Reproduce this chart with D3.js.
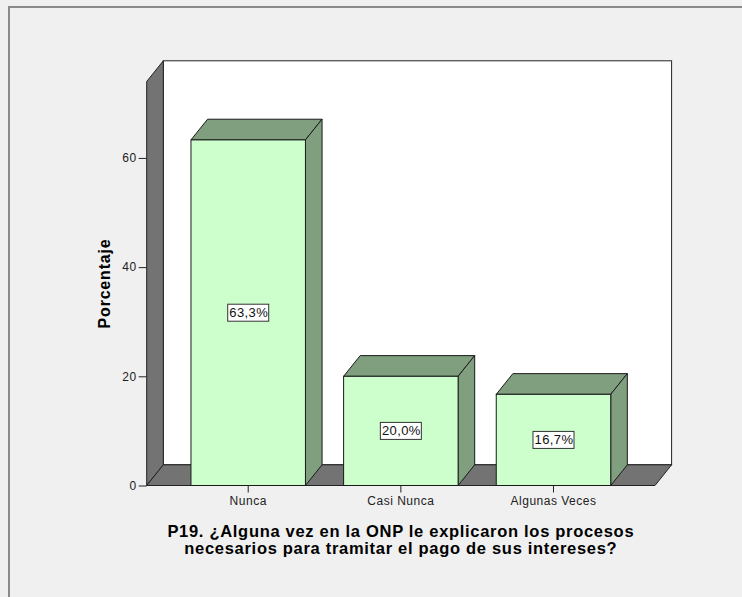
<!DOCTYPE html>
<html>
<head>
<meta charset="utf-8">
<script src="https://cdn.jsdelivr.net/npm/d3@7"></script>
<style>
  body { margin: 0; background: #f0f0f0; }
  text { font-family: "Liberation Sans", Arial, sans-serif; }
</style>
</head>
<body>
<div id="chart"></div>
<script>
var categories = ["Nunca", "Casi Nunca", "Algunas Veces"];
var percentages = [63.3, 20.0, 16.7];
var barLabels = ["63,3%", "20,0%", "16,7%"];
var yTicks = [0, 20, 40, 60];
var yTitle = "Porcentaje";
var xTitle = ["P19. ¿Alguna vez en la ONP le explicaron los procesos",
              "necesarios para tramitar el pago de sus intereses?"];

var width = 742, height = 597;
var depthX = 16.6, depthY = 20.7;   // 3D offset
var wallColor = "#737373", frontColor = "#ccffcc", sideColor = "#7f9f7f";

var svg = d3.select("#chart").append("svg")
    .attr("width", width)
    .attr("height", height);

svg.append("rect")
    .attr("width", width).attr("height", height)
    .attr("fill", "#f0f0f0");

// outer frame
svg.append("rect")
    .attr("x", 9).attr("y", 7)
    .attr("width", width + 20).attr("height", height + 20)
    .attr("fill", "none")
    .attr("stroke", "#8a8a8a")
    .attr("stroke-width", 2);

var y = d3.scaleLinear().domain([0, 74]).range([485.5, 81.5]);
var x = d3.scaleBand().domain(categories).range([146.7, 655])
    .paddingInner(0.25).paddingOuter(0.29);

var x0 = x.range()[0], x1 = x.range()[1];
var yb = y(0), yt = y(74);

// back wall
svg.append("rect")
    .attr("x", x0 + depthX).attr("y", yt - depthY)
    .attr("width", x1 - x0).attr("height", yb - yt)
    .attr("fill", "white").attr("stroke", "#222").attr("stroke-width", 1);

// left wall
svg.append("polygon")
    .attr("points", [[x0, yt], [x0 + depthX, yt - depthY], [x0 + depthX, yb - depthY], [x0, yb]].join(" "))
    .attr("fill", wallColor).attr("stroke", "#222").attr("stroke-width", 1);

// floor
svg.append("polygon")
    .attr("points", [[x0, yb], [x0 + depthX, yb - depthY], [x1 + depthX, yb - depthY], [x1, yb]].join(" "))
    .attr("fill", wallColor).attr("stroke", "#222").attr("stroke-width", 1);

// bars
var bars = svg.selectAll(".bar")
    .data(categories)
    .enter().append("g")
    .attr("class", "bar");

bars.append("polygon")   // top
    .attr("points", (d, i) => {
        var bx = x(d), bw = x.bandwidth(), by = y(percentages[i]);
        return [[bx, by], [bx + depthX, by - depthY], [bx + bw + depthX, by - depthY], [bx + bw, by]].join(" ");
    })
    .attr("fill", sideColor).attr("stroke", "#1a1a1a").attr("stroke-width", 1);

bars.append("polygon")   // side
    .attr("points", (d, i) => {
        var bx = x(d) + x.bandwidth(), by = y(percentages[i]);
        return [[bx, by], [bx + depthX, by - depthY], [bx + depthX, yb - depthY], [bx, yb]].join(" ");
    })
    .attr("fill", sideColor).attr("stroke", "#1a1a1a").attr("stroke-width", 1);

bars.append("rect")      // front
    .attr("x", d => x(d))
    .attr("y", (d, i) => y(percentages[i]))
    .attr("width", x.bandwidth())
    .attr("height", (d, i) => yb - y(percentages[i]))
    .attr("fill", frontColor).attr("stroke", "#1a1a1a").attr("stroke-width", 1);

// value labels
bars.append("rect")
    .attr("x", d => x(d) + x.bandwidth() / 2 - 20.5)
    .attr("y", (d, i) => (y(percentages[i]) + yb) / 2 - 8.5)
    .attr("width", 41).attr("height", 17)
    .attr("fill", "white").attr("stroke", "#333").attr("stroke-width", 1);

bars.append("text")
    .attr("x", d => x(d) + x.bandwidth() / 2 + 0.5)
    .attr("y", (d, i) => (y(percentages[i]) + yb) / 2 + 4.5)
    .attr("text-anchor", "middle")
    .style("font-size", "13px")
    .style("letter-spacing", "0.4px")
    .attr("fill", "#111")
    .text((d, i) => barLabels[i]);

// y axis
var yAxis = svg.append("g")
    .attr("transform", `translate(${x0},0)`)
    .call(d3.axisLeft(y).tickValues(yTicks).tickSize(8).tickPadding(2).tickFormat(d3.format("d")));
yAxis.select(".domain").remove();
yAxis.selectAll("line").attr("stroke", "#222");
yAxis.selectAll("text").style("font-size", "12px").style("letter-spacing", "0.5px")
    .style("font-family", "Liberation Sans, Arial, sans-serif").attr("fill", "#222");

// x axis
var xAxis = svg.append("g")
    .attr("transform", `translate(0,${yb})`)
    .call(d3.axisBottom(x).tickSize(7).tickPadding(4));
xAxis.select(".domain").remove();
xAxis.selectAll("line").attr("stroke", "#222");
xAxis.selectAll("text").style("font-size", "12px").style("letter-spacing", "0.5px")
    .style("font-family", "Liberation Sans, Arial, sans-serif").attr("fill", "#222");

// axis titles
svg.append("text")
    .attr("transform", `translate(110,${(yt + yb) / 2}) rotate(-90)`)
    .attr("text-anchor", "middle")
    .style("font-size", "16px").style("font-weight", "bold")
    .style("letter-spacing", "0.8px")
    .text(yTitle);

svg.selectAll(".xtitle")
    .data(xTitle)
    .enter().append("text")
    .attr("class", "xtitle")
    .attr("x", (x0 + x1) / 2)
    .attr("y", (d, i) => 536.5 + i * 17)
    .attr("text-anchor", "middle")
    .style("font-size", "16.5px").style("font-weight", "bold")
    .style("letter-spacing", "0.7px")
    .text(d => d);
</script>
</body>
</html>
